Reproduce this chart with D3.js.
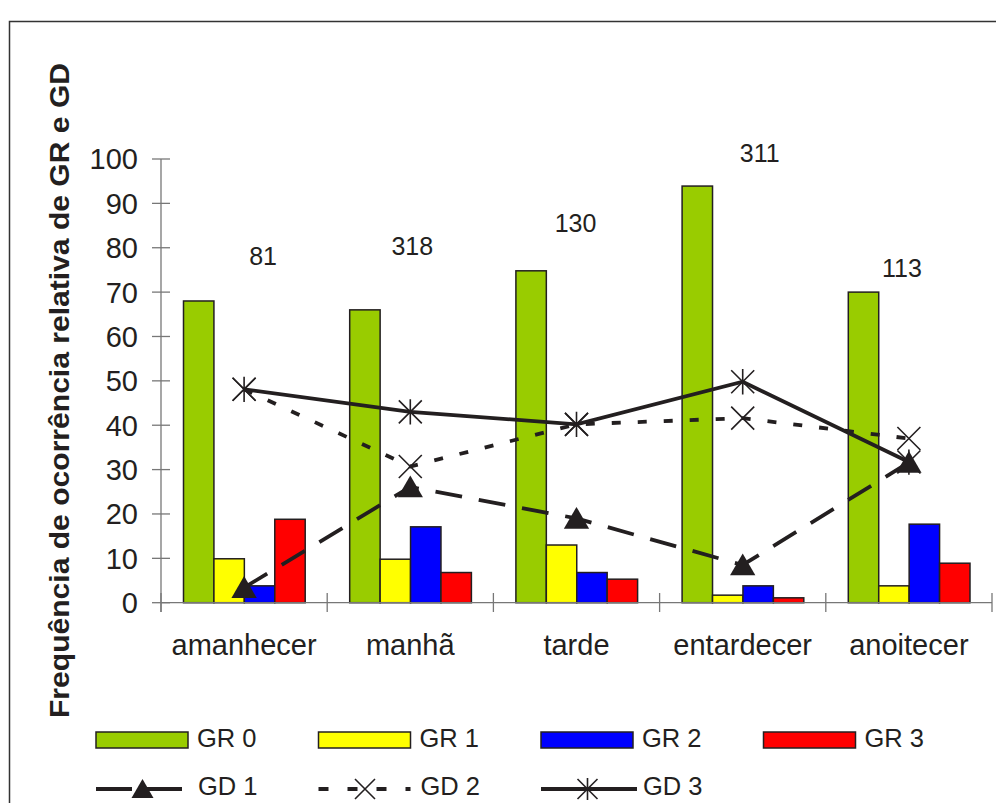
<!DOCTYPE html>
<html>
<head>
<meta charset="utf-8">
<script src="https://cdn.jsdelivr.net/npm/d3@7"></script>
<style>
  html, body { margin: 0; padding: 0; background: #fff; }
  svg { display: block; font-family: 'Liberation Sans', Arial, sans-serif; }
</style>
</head>
<body>
<div id="chart"></div>
<script>
// categories (time of day) and series
const categories = ['amanhecer', 'manhã', 'tarde', 'entardecer', 'anoitecer']
const barSeries = ['GR 0', 'GR 1', 'GR 2', 'GR 3']
const gr0 = [68, 66, 74.8, 93.9, 70]
const gr1 = [9.9, 9.8, 13, 1.7, 3.8]
const gr2 = [3.8, 17.1, 6.8, 3.8, 17.7]
const gr3 = [18.8, 6.8, 5.3, 1.1, 8.9]

const lineSeries = ['GD 1', 'GD 2', 'GD 3']
const gd1 = [3.4, 26.1, 19, 8.5, 31.6]
const gd2 = [48.1, 30.7, 40.2, 41.6, 37]
const gd3 = [48.1, 43, 40.2, 49.8, 31.7]

// sample sizes written above each group, with their height in axis units
const sampleSizes = [81, 318, 130, 311, 113]
const sampleLabelY = [76.1, 78.4, 83.5, 99.4, 73.5]

const yTicks = [0, 10, 20, 30, 40, 50, 60, 70, 80, 90, 100]

const barColors = ['#99cc00', '#ffff00', '#0000ff', '#ff0000']
const ink = '#231f20'

const width = 996
const height = 803

const svg = d3
  .select('#chart')
  .append('svg')
  .attr('width', width)
  .attr('height', height)

// outer frame
svg
  .append('rect')
  .attr('x', 9.5)
  .attr('y', 21.5)
  .attr('width', 1000)
  .attr('height', 900)
  .attr('fill', 'none')
  .attr('stroke', '#333')
  .attr('stroke-width', 1.5)

const x = d3
  .scaleBand()
  .domain(categories)
  .range([161, 992])
  .padding(0)

const xSub = d3
  .scaleBand()
  .domain(barSeries)
  .range([22.5, x.bandwidth() - 22])

const y = d3.scaleLinear().domain([0, 100]).range([602.7, 159])

const barData = [gr0, gr1, gr2, gr3]

// bars
const groups = svg
  .append('g')
  .selectAll('g')
  .data(categories)
  .join('g')
  .attr('transform', d => `translate(${x(d)},0)`)

groups
  .selectAll('rect')
  .data((d, i) => barSeries.map((s, j) => ({ s, v: barData[j][i], c: barColors[j] })))
  .join('rect')
  .attr('x', d => xSub(d.s))
  .attr('width', xSub.bandwidth())
  .attr('y', d => y(d.v))
  .attr('height', d => y(0) - y(d.v))
  .attr('fill', d => d.c)
  .attr('stroke', ink)
  .attr('stroke-width', 1.5)

// axes
const axisColor = '#777'
const yAxis = svg.append('g')
yAxis
  .append('line')
  .attr('x1', 161)
  .attr('x2', 161)
  .attr('y1', y(100))
  .attr('y2', 612)
  .attr('stroke', axisColor)
  .attr('stroke-width', 1.3)
yAxis
  .selectAll('line.tick')
  .data(yTicks)
  .join('line')
  .attr('class', 'tick')
  .attr('x1', 152)
  .attr('x2', 170)
  .attr('y1', d => y(d))
  .attr('y2', d => y(d))
  .attr('stroke', axisColor)
  .attr('stroke-width', 1.3)
yAxis
  .selectAll('text')
  .data(yTicks)
  .join('text')
  .attr('x', 138)
  .attr('y', d => y(d))
  .attr('dy', '0.36em')
  .attr('text-anchor', 'end')
  .attr('font-size', 29)
  .attr('fill', ink)
  .text(d => d)

const xAxis = svg.append('g')
xAxis
  .append('line')
  .attr('x1', 161)
  .attr('x2', 992)
  .attr('y1', y(0))
  .attr('y2', y(0))
  .attr('stroke', axisColor)
  .attr('stroke-width', 1.3)
xAxis
  .selectAll('line.tick')
  .data(categories.concat(['end']))
  .join('line')
  .attr('class', 'tick')
  .attr('x1', (d, i) => (i < categories.length ? x(d) : x.range()[1]))
  .attr('x2', (d, i) => (i < categories.length ? x(d) : x.range()[1]))
  .attr('y1', 593)
  .attr('y2', 612)
  .attr('stroke', axisColor)
  .attr('stroke-width', 1.3)
xAxis
  .selectAll('text')
  .data(categories)
  .join('text')
  .attr('x', d => x(d) + x.bandwidth() / 2)
  .attr('y', 655)
  .attr('text-anchor', 'middle')
  .attr('font-size', 29)
  .attr('fill', ink)
  .text(d => d)

// y title
svg
  .append('text')
  .attr('transform', 'translate(69,390.5) rotate(-90)')
  .attr('text-anchor', 'middle')
  .attr('font-size', 28)
  .attr('font-weight', 'bold')
  .attr('fill', ink)
  .attr('textLength', 655)
  .attr('lengthAdjust', 'spacingAndGlyphs')
  .text('Frequência de ocorrência relativa de GR e GD')

// sample size labels
const labelShift = [19, 2, -1, 17, -7]
svg
  .append('g')
  .selectAll('text')
  .data(sampleSizes)
  .join('text')
  .attr('x', (d, i) => x(categories[i]) + x.bandwidth() / 2 + labelShift[i])
  .attr('y', (d, i) => y(sampleLabelY[i]))
  .attr('text-anchor', 'middle')
  .attr('font-size', 25)
  .attr('fill', ink)
  .text(d => d)

// markers
function drawMarker(g, type, cx, cy, s) {
  if (type === 'triangle') {
    g.append('path')
      .attr('d', `M${cx},${cy - s * 0.5}L${cx + s * 0.55},${cy + s * 0.45}L${cx - s * 0.55},${cy + s * 0.45}Z`)
      .attr('fill', ink)
  } else if (type === 'x') {
    const h = s / 2
    g.append('path')
      .attr('d', `M${cx - h},${cy - h}L${cx + h},${cy + h}M${cx - h},${cy + h}L${cx + h},${cy - h}`)
      .attr('stroke', ink)
      .attr('stroke-width', 1.6)
      .attr('fill', 'none')
  } else {
    const h = s / 2
    g.append('path')
      .attr('d', `M${cx - h},${cy - h}L${cx + h},${cy + h}M${cx - h},${cy + h}L${cx + h},${cy - h}M${cx},${cy - h * 1.1}L${cx},${cy + h * 1.1}`)
      .attr('stroke', ink)
      .attr('stroke-width', 1.6)
      .attr('fill', 'none')
  }
}

const lineDefs = [
  { name: 'GD 3', values: gd3, dash: null, legendDash: null, marker: 'asterisk' },
  { name: 'GD 2', values: gd2, dash: '9,17', legendDash: '10,19', marker: 'x' },
  { name: 'GD 1', values: gd1, dash: '27,17', legendDash: '36,14', marker: 'triangle' },
]

const line = d3
  .line()
  .x((d, i) => x(categories[i]) + x.bandwidth() / 2)
  .y(d => y(d))

const linesG = svg.append('g')
lineDefs.forEach(def => {
  linesG
    .append('path')
    .datum(def.values)
    .attr('d', line)
    .attr('fill', 'none')
    .attr('stroke', ink)
    .attr('stroke-width', 3.8)
    .attr('stroke-dasharray', def.dash)
  def.values.forEach((v, i) => {
    drawMarker(linesG, def.marker, x(categories[i]) + x.bandwidth() / 2, y(v), 23)
  })
})

// legend
const legendX = [96, 318.5, 541, 763.5]
const legend = svg.append('g')
barSeries.forEach((s, i) => {
  legend
    .append('rect')
    .attr('x', legendX[i])
    .attr('y', 732)
    .attr('width', 92)
    .attr('height', 16)
    .attr('fill', barColors[i])
    .attr('stroke', ink)
    .attr('stroke-width', 1.5)
  legend
    .append('text')
    .attr('x', legendX[i] + 101)
    .attr('y', 747)
    .attr('font-size', 25.5)
    .attr('fill', ink)
    .text(s)
})

const legendLines = [lineDefs[2], lineDefs[1], lineDefs[0]]
const legendLineLen = [86, 92, 96]
legendLines.forEach((def, i) => {
  legend
    .append('line')
    .attr('x1', legendX[i])
    .attr('x2', legendX[i] + legendLineLen[i])
    .attr('y1', 789)
    .attr('y2', 789)
    .attr('stroke', ink)
    .attr('stroke-width', 3.8)
    .attr('stroke-dasharray', def.legendDash)
  drawMarker(legend, def.marker, legendX[i] + 46.5, 789, 20)
  legend
    .append('text')
    .attr('x', legendX[i] + 102)
    .attr('y', 795)
    .attr('font-size', 25.5)
    .attr('fill', ink)
    .text(lineSeries[i])
})
</script>
</body>
</html>
